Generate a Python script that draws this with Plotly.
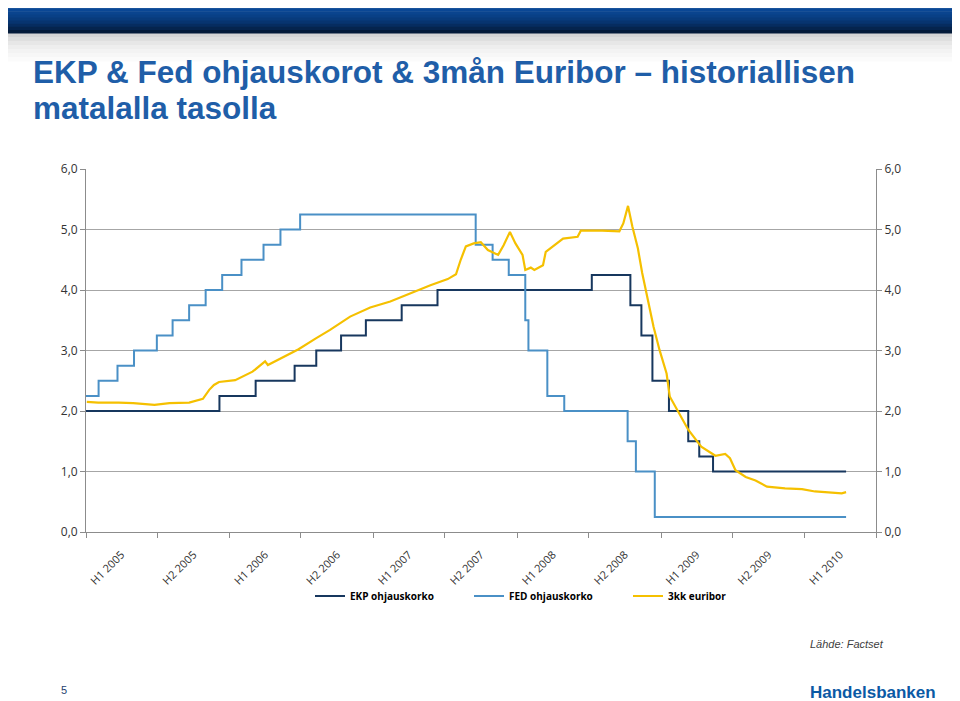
import plotly.graph_objects as go

# --- data --------------------------------------------------------------------
periods = ["H1 2005", "H2 2005", "H1 2006", "H2 2006", "H1 2007", "H2 2007",
           "H1 2008", "H2 2008", "H1 2009", "H2 2009", "H1 2010"]

ecb_dates = ["2005-01-01", "2005-12-06", "2006-03-08", "2006-06-15", "2006-08-09",
             "2006-10-11", "2006-12-13", "2007-03-14", "2007-06-13", "2008-07-09",
             "2008-10-15", "2008-11-12", "2008-12-10", "2009-01-21", "2009-03-11",
             "2009-04-08", "2009-05-13", "2010-04-16"]
ecb_rates = [2.0, 2.25, 2.5, 2.75, 3.0, 3.25, 3.5, 3.75, 4.0, 4.25,
             3.75, 3.25, 2.5, 2.0, 1.5, 1.25, 1.0, 1.0]

fed_dates = ["2005-01-01", "2005-02-02", "2005-03-22", "2005-05-03", "2005-06-30",
             "2005-08-09", "2005-09-20", "2005-11-01", "2005-12-13", "2006-01-31",
             "2006-03-28", "2006-05-10", "2006-06-29", "2007-09-18", "2007-10-31",
             "2007-12-11", "2008-01-22", "2008-01-30", "2008-03-18", "2008-04-30",
             "2008-10-08", "2008-10-29", "2008-12-16", "2010-04-16"]
fed_rates = [2.25, 2.5, 2.75, 3.0, 3.25, 3.5, 3.75, 4.0, 4.25, 4.5, 4.75, 5.0, 5.25,
             4.75, 4.5, 4.25, 3.5, 3.0, 2.25, 2.0, 1.5, 1.0, 0.25, 0.25]

euribor_dates = ["2005-01-03", "2005-02-01", "2005-03-25", "2005-05-01", "2005-06-24",
                 "2005-08-01", "2005-09-20", "2005-10-15", "2005-10-25", "2005-11-10",
                 "2005-11-22", "2005-12-05", "2006-01-15", "2006-02-28", "2006-04-01",
                 "2006-04-08", "2006-05-22", "2006-06-25", "2006-08-08", "2006-09-13",
                 "2006-11-03", "2006-12-24", "2007-02-13", "2007-04-05", "2007-05-26",
                 "2007-07-09", "2007-07-30", "2007-08-11", "2007-08-24", "2007-09-13",
                 "2007-10-01", "2007-10-19", "2007-11-14", "2007-11-28", "2007-12-14",
                 "2007-12-28", "2008-01-15", "2008-01-22", "2008-02-05", "2008-02-14",
                 "2008-03-07", "2008-03-14", "2008-04-05", "2008-04-27", "2008-06-03",
                 "2008-06-11", "2008-08-04", "2008-09-17", "2008-09-27", "2008-10-09",
                 "2008-10-20", "2008-11-03", "2008-11-14", "2008-11-28", "2008-12-13",
                 "2008-12-28", "2009-01-15", "2009-01-23", "2009-02-10", "2009-03-11",
                 "2009-04-13", "2009-05-19", "2009-06-13", "2009-06-25", "2009-07-09",
                 "2009-08-04", "2009-08-29", "2009-09-27", "2009-11-12", "2009-12-25",
                 "2010-01-27", "2010-03-05", "2010-04-05", "2010-04-16"]
euribor_rates = [2.15, 2.14, 2.14, 2.13, 2.10, 2.13, 2.14, 2.19, 2.20, 2.35,
                 2.43, 2.48, 2.51, 2.65, 2.82, 2.76, 2.90, 3.02, 3.20, 3.34,
                 3.56, 3.71, 3.81, 3.95, 4.08, 4.18, 4.26, 4.50, 4.72, 4.77,
                 4.79, 4.66, 4.58, 4.74, 4.96, 4.77, 4.58, 4.33, 4.37, 4.33,
                 4.41, 4.63, 4.74, 4.85, 4.88, 4.98, 4.98, 4.97, 5.10, 5.39,
                 5.05, 4.69, 4.28, 3.83, 3.39, 3.01, 2.62, 2.24, 2.02, 1.69,
                 1.41, 1.26, 1.29, 1.22, 1.02, 0.91, 0.85, 0.75, 0.72, 0.71,
                 0.67, 0.66, 0.64, 0.66]

# --- page geometry (page pixels; the html body adds an 8px margin) -----------
OFF = 8
W, H = 960 - OFF, 701 - OFF
PLOT_L, PLOT_R, PLOT_T, PLOT_B = 86, 876, 169, 532
ML, MR = PLOT_L - OFF, W - (PLOT_R - OFF)
MT, MB = PLOT_T - OFF, H - (PLOT_B - OFF)
PW, PH = PLOT_R - PLOT_L, PLOT_B - PLOT_T


def px(x):
    return (x - PLOT_L) / PW


def py(y):
    return (PLOT_B - y) / PH


def period_center(label):
    half, year = label.split()
    return f"{year}-04-01" if half == "H1" else f"{year}-10-01"


fig = go.Figure()
fig.add_trace(go.Scatter(x=ecb_dates, y=ecb_rates, name="EKP ohjauskorko",
                         mode="lines", line=dict(color="#17375e", width=2, shape="hv")))
fig.add_trace(go.Scatter(x=fed_dates, y=fed_rates, name="FED ohjauskorko",
                         mode="lines", line=dict(color="#4a90c6", width=2, shape="hv")))
fig.add_trace(go.Scatter(x=euribor_dates, y=euribor_rates, name="3kk euribor",
                         mode="lines", yaxis="y2",
                         line=dict(color="#f5c000", width=2.2)))

tick_font = dict(family="Open Sans", size=12, color="#333333")

fig.update_layout(
    width=W, height=H,
    margin=dict(l=ML, r=MR, t=MT, b=MB),
    paper_bgcolor="white", plot_bgcolor="white",
    separators=", ",
    showlegend=True,
    legend=dict(orientation="h", x=px(310), y=py(596), xanchor="left", yanchor="middle",
                font=dict(family="Open Sans", size=10, color="#000", weight="bold"),
                entrywidth=114, bgcolor="rgba(0,0,0,0)"),
    xaxis=dict(type="date", range=["2005-01-01", "2010-07-01"],
               tickmode="array", tickvals=[period_center(p) for p in periods],
               ticktext=periods, tickangle=-45, ticks="outside", ticklen=11,
               tickcolor="rgba(0,0,0,0)", showgrid=False,
               tickfont=dict(family="Open Sans", size=11, color="#333333"),
               showline=True, linecolor="#8c8c8c", linewidth=1,
               minor=dict(ticks="outside", ticklen=5, tickcolor="#8c8c8c",
                          dtick="M6", tick0="2005-01-01", showgrid=False)),
    yaxis=dict(range=[0, 6], dtick=1, tickformat=".1f", showgrid=True,
               gridcolor="#a6a6a6", gridwidth=1, zeroline=False,
               showline=True, linecolor="#8c8c8c", ticks="outside", ticklen=5,
               tickcolor="#8c8c8c", tickfont=tick_font),
    yaxis2=dict(range=[0, 6], dtick=1, tickformat=".1f", overlaying="y", side="right",
                showgrid=False, zeroline=False, showline=True, linecolor="#8c8c8c",
                ticks="outside", ticklen=5, tickcolor="#8c8c8c", tickfont=tick_font),
)

# header band with a faked vertical gradient
shapes = []
blues = ["#0b4c9e", "#0b4a9a", "#0a4795", "#0a448e", "#094086", "#083b7c",
         "#073470", "#062c60", "#05244e", "#041b3a"]
band_top, band_bottom = 2, 33
step = (band_bottom - band_top) / len(blues)
for i, c in enumerate(blues):
    y0 = band_top + i * step
    shapes.append(dict(type="rect", xref="paper", yref="paper",
                       x0=px(4), x1=px(956), y0=py(y0), y1=py(y0 + step + 0.5),
                       fillcolor=c, line_width=0, layer="above"))
greys = ["#d6d6d6", "#dfdfdf", "#e7e7e7", "#eeeeee", "#f3f3f3", "#f7f7f7", "#fbfbfb"]
for i, c in enumerate(greys):
    y0 = 33 + i * 4
    shapes.append(dict(type="rect", xref="paper", yref="paper",
                       x0=px(4), x1=px(956), y0=py(y0), y1=py(y0 + 4.5),
                       fillcolor=c, line_width=0, layer="below"))
fig.update_layout(shapes=shapes)

title_font = dict(family="Liberation Sans", size=31.5, color="#1f5ea8")
fig.add_annotation(text="<b>EKP & Fed ohjauskorot & 3mån Euribor – historiallisen</b>",
                   xref="paper", yref="paper", x=px(31), y=py(72),
                   xanchor="left", yanchor="middle", showarrow=False, font=title_font)
fig.add_annotation(text="<b>matalalla tasolla</b>",
                   xref="paper", yref="paper", x=px(31), y=py(108),
                   xanchor="left", yanchor="middle", showarrow=False, font=title_font)
fig.add_annotation(text="<i>Lähde: Factset</i>", xref="paper", yref="paper",
                   x=px(808), y=py(644), xanchor="left", yanchor="middle",
                   showarrow=False,
                   font=dict(family="Liberation Sans", size=11, color="#404040"))
fig.add_annotation(text="5", xref="paper", yref="paper", x=px(64), y=py(690),
                   xanchor="center", yanchor="middle", showarrow=False,
                   font=dict(family="Liberation Sans", size=11, color="#1f3f6e"))
fig.add_annotation(text="<b>Handelsbanken</b>", xref="paper", yref="paper",
                   x=px(938), y=py(692), xanchor="right", yanchor="middle",
                   showarrow=False,
                   font=dict(family="Liberation Sans", size=17, color="#0b5aa5"))

fig.write_html("out.html")
